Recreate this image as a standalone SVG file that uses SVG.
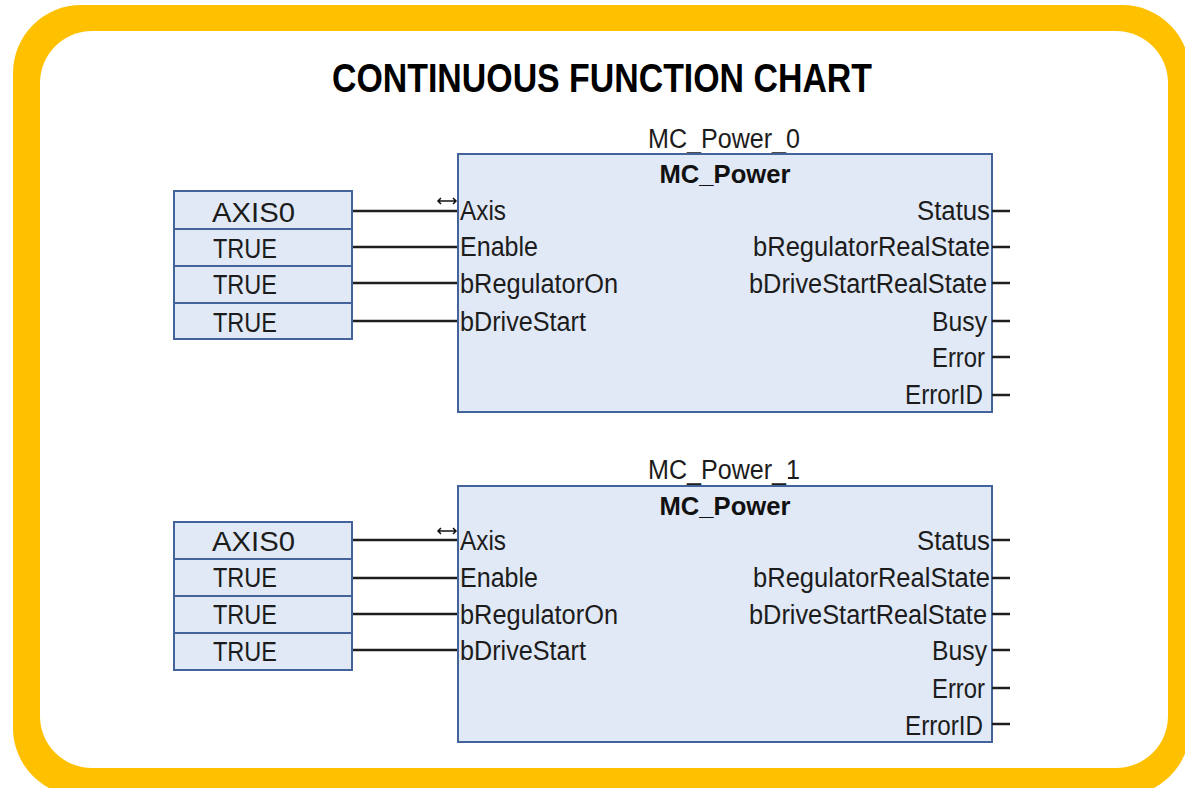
<svg xmlns="http://www.w3.org/2000/svg" width="1185" height="788" viewBox="0 0 1185 788">
<style>
.lbl{font-family:"Liberation Sans",Arial,sans-serif;font-size:27px;fill:#1c1c1c}
.typ{font-family:"Liberation Sans",Arial,sans-serif;font-size:26px;font-weight:bold;fill:#111}
.title{font-family:"Liberation Sans",Arial,sans-serif;font-size:40px;font-weight:bold;fill:#000}
.blk{fill:#e1e9f6;stroke:#44639a;stroke-width:2}
.cst{fill:#e1e9f6;stroke:#44639a;stroke-width:2}
.wire{stroke:#1e1e1e;stroke-width:2.4;fill:none}
.icon{stroke:#111;stroke-width:1.5;fill:none}
</style>
<defs>
<g id="pin_icon"><path class="icon" d="M438,0 H456 M441,-3 L438,0 L441,3 M453,-3 L456,0 L453,3"/></g>
</defs>
<rect x="0" y="0" width="1185" height="788" fill="#fff"/>
<g id="frame">
<rect x="13" y="5" width="1177" height="791" rx="68" ry="68" fill="#ffc000"/>
<rect x="40" y="31" width="1128" height="737" rx="52" ry="52" fill="#fff"/>
</g>
<text class="title" x="602" y="92" text-anchor="middle" textLength="540" lengthAdjust="spacingAndGlyphs">CONTINUOUS FUNCTION CHART</text>

<g id="connectors">
<line class="wire" x1="352" y1="211" x2="458" y2="211"/>
<line class="wire" x1="352" y1="247" x2="458" y2="247"/>
<line class="wire" x1="352" y1="283" x2="458" y2="283"/>
<line class="wire" x1="352" y1="321" x2="458" y2="321"/>
<use href="#pin_icon" y="201"/>
<line class="wire" x1="352" y1="540" x2="458" y2="540"/>
<line class="wire" x1="352" y1="578" x2="458" y2="578"/>
<line class="wire" x1="352" y1="614" x2="458" y2="614"/>
<line class="wire" x1="352" y1="650" x2="458" y2="650"/>
<use href="#pin_icon" y="531"/>
</g>

<g id="const_axis0_a"><rect class="cst" x="174" y="191" width="178" height="38"/><text class="lbl" x="212" y="222" fill="#333" textLength="83" lengthAdjust="spacingAndGlyphs">AXIS0</text></g>
<g id="const_true_a1"><rect class="cst" x="174" y="229" width="178" height="37"/><text class="lbl" x="213" y="258" textLength="64" lengthAdjust="spacingAndGlyphs">TRUE</text></g>
<g id="const_true_a2"><rect class="cst" x="174" y="266" width="178" height="37"/><text class="lbl" x="213" y="294" textLength="64" lengthAdjust="spacingAndGlyphs">TRUE</text></g>
<g id="const_true_a3"><rect class="cst" x="174" y="303" width="178" height="36"/><text class="lbl" x="213" y="332" textLength="64" lengthAdjust="spacingAndGlyphs">TRUE</text></g>

<g id="const_axis0_b"><rect class="cst" x="174" y="522" width="178" height="37"/><text class="lbl" x="212" y="551" fill="#333" textLength="83" lengthAdjust="spacingAndGlyphs">AXIS0</text></g>
<g id="const_true_b1"><rect class="cst" x="174" y="559" width="178" height="37"/><text class="lbl" x="213" y="587" textLength="64" lengthAdjust="spacingAndGlyphs">TRUE</text></g>
<g id="const_true_b2"><rect class="cst" x="174" y="596" width="178" height="37"/><text class="lbl" x="213" y="624" textLength="64" lengthAdjust="spacingAndGlyphs">TRUE</text></g>
<g id="const_true_b3"><rect class="cst" x="174" y="633" width="178" height="37"/><text class="lbl" x="213" y="661" textLength="64" lengthAdjust="spacingAndGlyphs">TRUE</text></g>

<g id="mc_power_0">
<text class="lbl" x="724" y="148" text-anchor="middle" textLength="152" lengthAdjust="spacingAndGlyphs">MC_Power_0</text>
<rect class="blk" x="458" y="154" width="534" height="258"/>
<text class="typ" x="725" y="183" text-anchor="middle" textLength="131" lengthAdjust="spacingAndGlyphs">MC_Power</text>
<text class="lbl" x="460" y="220" textLength="46" lengthAdjust="spacingAndGlyphs">Axis</text>
<text class="lbl" x="460" y="256" textLength="78" lengthAdjust="spacingAndGlyphs">Enable</text>
<text class="lbl" x="460" y="293" textLength="158" lengthAdjust="spacingAndGlyphs">bRegulatorOn</text>
<text class="lbl" x="460" y="331" textLength="126" lengthAdjust="spacingAndGlyphs">bDriveStart</text>
<text class="lbl" x="990" y="220" text-anchor="end" textLength="73" lengthAdjust="spacingAndGlyphs">Status</text>
<text class="lbl" x="990" y="256" text-anchor="end" textLength="237" lengthAdjust="spacingAndGlyphs">bRegulatorRealState</text>
<text class="lbl" x="987" y="293" text-anchor="end" textLength="238" lengthAdjust="spacingAndGlyphs">bDriveStartRealState</text>
<text class="lbl" x="987" y="331" text-anchor="end" textLength="55" lengthAdjust="spacingAndGlyphs">Busy</text>
<text class="lbl" x="985" y="367" text-anchor="end" textLength="53" lengthAdjust="spacingAndGlyphs">Error</text>
<text class="lbl" x="983" y="404" text-anchor="end" textLength="78" lengthAdjust="spacingAndGlyphs">ErrorID</text>
<path class="wire" d="M992,211 H1010 M992,247 H1010 M992,283 H1010 M992,321 H1010 M992,357 H1010 M992,395 H1010"/>
</g>

<g id="mc_power_1">
<text class="lbl" x="724" y="479" text-anchor="middle" textLength="152" lengthAdjust="spacingAndGlyphs">MC_Power_1</text>
<rect class="blk" x="458" y="486" width="534" height="256"/>
<text class="typ" x="725" y="515" text-anchor="middle" textLength="131" lengthAdjust="spacingAndGlyphs">MC_Power</text>
<text class="lbl" x="460" y="550" textLength="46" lengthAdjust="spacingAndGlyphs">Axis</text>
<text class="lbl" x="460" y="587" textLength="78" lengthAdjust="spacingAndGlyphs">Enable</text>
<text class="lbl" x="460" y="624" textLength="158" lengthAdjust="spacingAndGlyphs">bRegulatorOn</text>
<text class="lbl" x="460" y="660" textLength="126" lengthAdjust="spacingAndGlyphs">bDriveStart</text>
<text class="lbl" x="990" y="550" text-anchor="end" textLength="73" lengthAdjust="spacingAndGlyphs">Status</text>
<text class="lbl" x="990" y="587" text-anchor="end" textLength="237" lengthAdjust="spacingAndGlyphs">bRegulatorRealState</text>
<text class="lbl" x="987" y="624" text-anchor="end" textLength="238" lengthAdjust="spacingAndGlyphs">bDriveStartRealState</text>
<text class="lbl" x="987" y="660" text-anchor="end" textLength="55" lengthAdjust="spacingAndGlyphs">Busy</text>
<text class="lbl" x="985" y="698" text-anchor="end" textLength="53" lengthAdjust="spacingAndGlyphs">Error</text>
<text class="lbl" x="983" y="735" text-anchor="end" textLength="78" lengthAdjust="spacingAndGlyphs">ErrorID</text>
<path class="wire" d="M992,540 H1010 M992,578 H1010 M992,614 H1010 M992,650 H1010 M992,688 H1010 M992,724 H1010"/>
</g>
</svg>
